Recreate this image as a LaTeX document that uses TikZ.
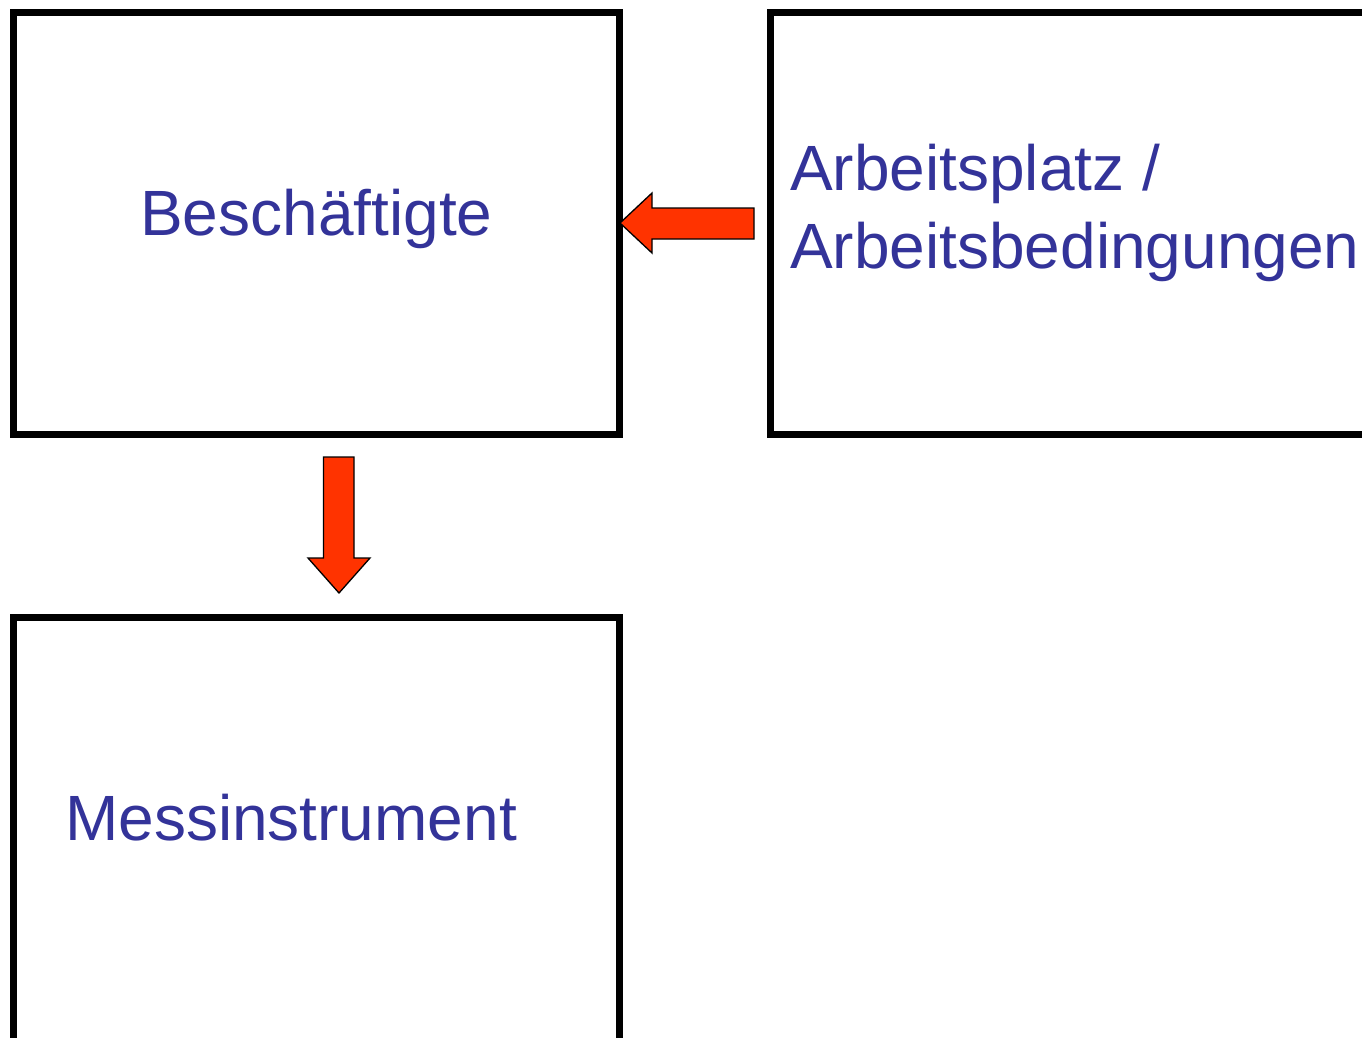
\documentclass[tikz,border=0pt]{standalone}
\usepackage{fontspec}
\setmainfont{Liberation Sans}
\begin{document}
\definecolor{labelblue}{RGB}{51,51,153}
\definecolor{arrowred}{RGB}{255,51,0}
\begin{tikzpicture}[x=1pt,y=-1pt,
  frame/.style={draw=black,line width=7pt,fill=none},
  label/.style={text=labelblue,font=\fontsize{64}{78}\selectfont,inner sep=0pt,anchor=base west},
  blockarrow/.style={draw=black,line width=1.3pt,fill=arrowred,line join=miter}]
  \useasboundingbox (0,0) rectangle (1362,1037);
  \begin{scope}
    \clip (0,0) rectangle (1362,1037);
    % three frames
    \draw[frame] (13.5,12) rectangle (619,434.5);
    \draw[frame] (770.5,12) rectangle (1420,434.5);
    \draw[frame] (13.5,617) rectangle (619,1041);
    % block arrow pointing left into the first frame
    \draw[blockarrow] (620,223) -- (652,193) -- (652,208) -- (754,208)
      -- (754,239) -- (652,239) -- (652,253) -- cycle;
    % block arrow pointing down to the lower frame
    \draw[blockarrow] (323.5,457) -- (354,457) -- (354,558) -- (370,558)
      -- (339,593) -- (308,558) -- (323.5,558) -- cycle;
  \end{scope}
  \node[label] (t1) at (140,235) {Beschäftigte};
  \node[label] (t2) at (790,190) {Arbeitsplatz /};
  \node[label] (t3) at (790,268) {Arbeitsbedingungen};
  \node[label] (t4) at (65,840) {Messinstrument};
\end{tikzpicture}
\end{document}
